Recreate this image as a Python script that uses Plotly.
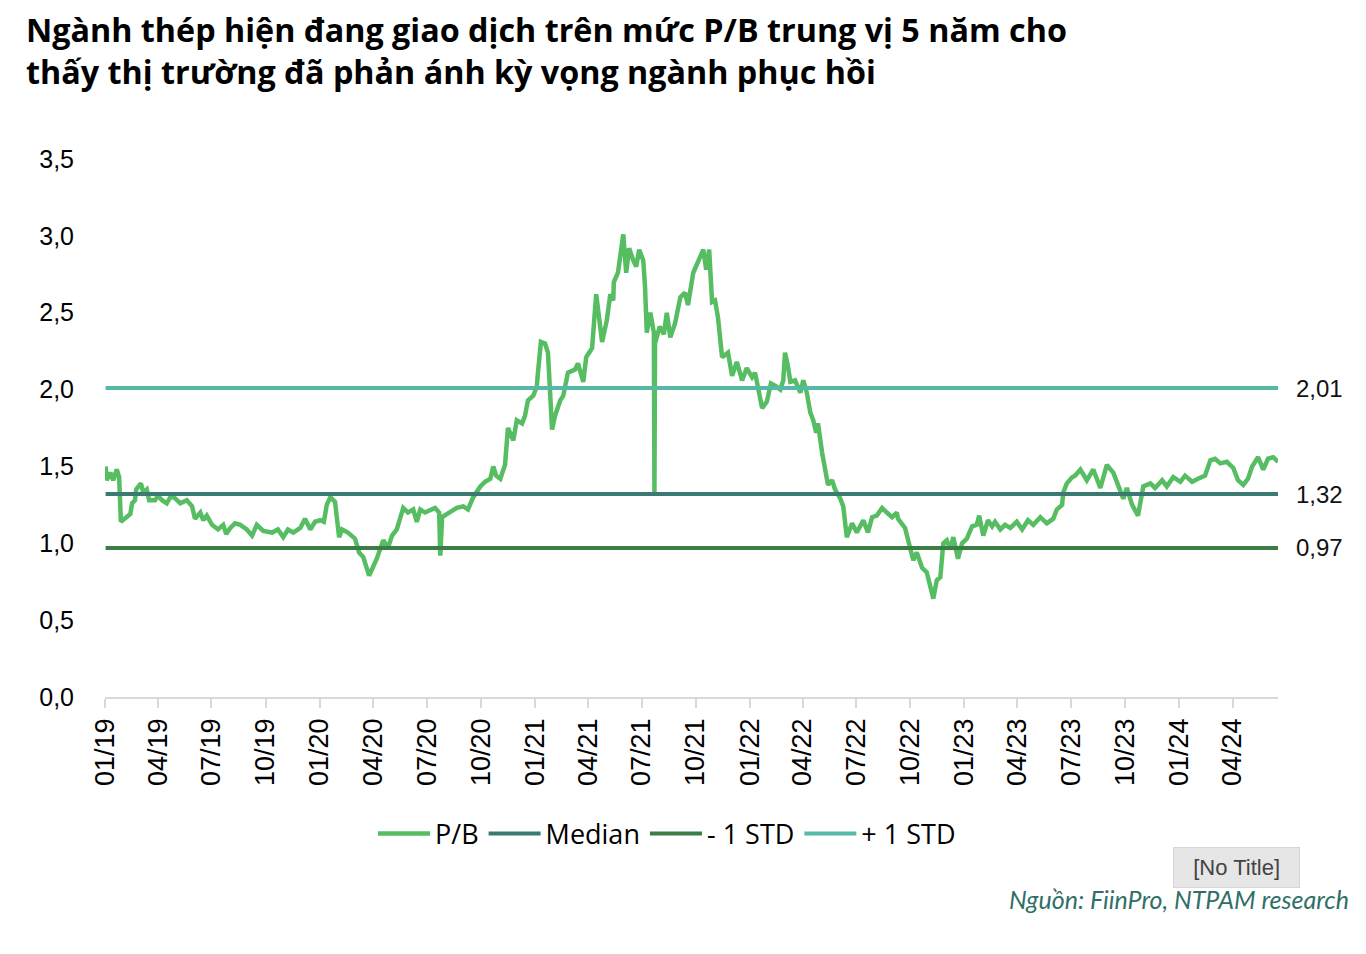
import plotly.graph_objects as go

# ---------------- data ----------------
dates = [
    "2019-01-02", "2019-01-04", "2019-01-10", "2019-01-15", "2019-01-21", "2019-01-25", "2019-01-28",
    "2019-02-04", "2019-02-13", "2019-02-16", "2019-02-21", "2019-02-23", "2019-03-03", "2019-03-07",
    "2019-03-13", "2019-03-17", "2019-03-27", "2019-04-01", "2019-04-08", "2019-04-16", "2019-04-22",
    "2019-04-28", "2019-05-09", "2019-05-20", "2019-05-29", "2019-06-03", "2019-06-12", "2019-06-17",
    "2019-06-23", "2019-07-02", "2019-07-12", "2019-07-21", "2019-07-26", "2019-08-02", "2019-08-10",
    "2019-08-19", "2019-08-30", "2019-09-08", "2019-09-16", "2019-09-27", "2019-10-12", "2019-10-22",
    "2019-10-31", "2019-11-08", "2019-11-17", "2019-11-29", "2019-12-07", "2019-12-16", "2019-12-24",
    "2020-01-02", "2020-01-08", "2020-01-13", "2020-01-19", "2020-01-27", "2020-01-30", "2020-02-03",
    "2020-02-08", "2020-02-18", "2020-03-01", "2020-03-08", "2020-03-15", "2020-03-25", "2020-04-07",
    "2020-04-18", "2020-04-26", "2020-05-03", "2020-05-11", "2020-05-22", "2020-05-30", "2020-06-08",
    "2020-06-14", "2020-06-20", "2020-06-28", "2020-07-07", "2020-07-15", "2020-07-22", "2020-07-24",
    "2020-07-27", "2020-08-10", "2020-08-21", "2020-09-01", "2020-09-09", "2020-09-18", "2020-09-30",
    "2020-10-08", "2020-10-17", "2020-10-22", "2020-10-27", "2020-11-03", "2020-11-11", "2020-11-16",
    "2020-11-25", "2020-12-01", "2020-12-10", "2020-12-15", "2020-12-20", "2020-12-29", "2021-01-04",
    "2021-01-06", "2021-01-11", "2021-01-18", "2021-01-23", "2021-01-30", "2021-02-04", "2021-02-13",
    "2021-02-18", "2021-02-26", "2021-03-10", "2021-03-15", "2021-03-24", "2021-03-29", "2021-04-08",
    "2021-04-15", "2021-04-18", "2021-04-25", "2021-05-03", "2021-05-09", "2021-05-14", "2021-05-15",
    "2021-05-22", "2021-05-27", "2021-05-31", "2021-06-05", "2021-06-10", "2021-06-17", "2021-06-22",
    "2021-06-27", "2021-07-04", "2021-07-07", "2021-07-10", "2021-07-16", "2021-07-22", "2021-07-23",
    "2021-07-24", "2021-08-01", "2021-08-08", "2021-08-13", "2021-08-19", "2021-08-27", "2021-09-05",
    "2021-09-13", "2021-09-18", "2021-09-27", "2021-10-09", "2021-10-14", "2021-10-19", "2021-10-24",
    "2021-10-29", "2021-11-03", "2021-11-08", "2021-11-15", "2021-11-25", "2021-12-02", "2021-12-10",
    "2021-12-19", "2021-12-27", "2022-01-05", "2022-01-10", "2022-01-15", "2022-01-22", "2022-01-30",
    "2022-02-06", "2022-02-15", "2022-02-22", "2022-02-27", "2022-03-02", "2022-03-07", "2022-03-11",
    "2022-03-19", "2022-03-28", "2022-04-02", "2022-04-08", "2022-04-14", "2022-04-19", "2022-04-24",
    "2022-04-27", "2022-05-04", "2022-05-09", "2022-05-14", "2022-05-21", "2022-05-26", "2022-06-04",
    "2022-06-09", "2022-06-15", "2022-06-24", "2022-07-02", "2022-07-13", "2022-07-21", "2022-07-28",
    "2022-08-05", "2022-08-14", "2022-08-22", "2022-08-31", "2022-09-08", "2022-09-10", "2022-09-22",
    "2022-10-01", "2022-10-06", "2022-10-12", "2022-10-21", "2022-10-29", "2022-11-04", "2022-11-09",
    "2022-11-15", "2022-11-21", "2022-11-26", "2022-12-02", "2022-12-08", "2022-12-13", "2022-12-21",
    "2022-12-28", "2023-01-05", "2023-01-14", "2023-01-22", "2023-01-26", "2023-02-02", "2023-02-10",
    "2023-02-17", "2023-02-22", "2023-03-03", "2023-03-11", "2023-03-20", "2023-03-31", "2023-04-09",
    "2023-04-19", "2023-04-28", "2023-05-10", "2023-05-21", "2023-06-01", "2023-06-07", "2023-06-16",
    "2023-06-18", "2023-06-24", "2023-07-03", "2023-07-08", "2023-07-17", "2023-07-28", "2023-08-08",
    "2023-08-20", "2023-08-31", "2023-09-11", "2023-09-19", "2023-09-28", "2023-10-04", "2023-10-13",
    "2023-10-23", "2023-11-01", "2023-11-13", "2023-11-21", "2023-12-03", "2023-12-11", "2023-12-22",
    "2024-01-03", "2024-01-11", "2024-01-23", "2024-02-02", "2024-02-14", "2024-02-23", "2024-03-02",
    "2024-03-11", "2024-03-22", "2024-04-02", "2024-04-10", "2024-04-19", "2024-04-27", "2024-05-04",
    "2024-05-14", "2024-05-23", "2024-05-31", "2024-06-09", "2024-06-17",
]

pb_values = [
    1.50, 1.41, 1.46, 1.41, 1.48, 1.43, 1.14,
    1.16, 1.19, 1.26, 1.28, 1.35, 1.39, 1.33,
    1.35, 1.28, 1.28, 1.31, 1.28, 1.26, 1.30,
    1.30, 1.26, 1.28, 1.24, 1.16, 1.20, 1.15,
    1.18, 1.12, 1.09, 1.12, 1.06, 1.10, 1.13,
    1.12, 1.09, 1.05, 1.12, 1.08, 1.07, 1.09,
    1.04, 1.09, 1.07, 1.10, 1.16, 1.09, 1.14,
    1.15, 1.14, 1.25, 1.30, 1.27, 1.15, 1.04,
    1.09, 1.07, 1.03, 0.94, 0.91, 0.79, 0.90,
    1.02, 0.97, 1.05, 1.09, 1.23, 1.20, 1.22,
    1.14, 1.22, 1.20, 1.22, 1.23, 1.20, 0.92,
    1.17, 1.20, 1.23, 1.24, 1.22, 1.30, 1.37,
    1.40, 1.42, 1.50, 1.44, 1.42, 1.51, 1.75,
    1.67, 1.80, 1.78, 1.83, 1.93, 1.96, 2.02,
    2.11, 2.31, 2.30, 2.24, 1.74, 1.83, 1.93,
    1.96, 2.11, 2.13, 2.17, 2.05, 2.21, 2.27,
    2.62, 2.52, 2.31, 2.45, 2.62, 2.58, 2.70,
    2.76, 2.93, 3.01, 2.76, 2.92, 2.84, 2.80,
    2.91, 2.84, 2.67, 2.37, 2.50, 2.37, 1.33,
    2.30, 2.41, 2.36, 2.50, 2.34, 2.43, 2.60,
    2.63, 2.55, 2.76, 2.86, 2.91, 2.78, 2.91,
    2.57, 2.58, 2.47, 2.21, 2.24, 2.09, 2.18,
    2.06, 2.14, 2.08, 2.11, 2.02, 1.88, 1.92,
    2.04, 2.02, 2.00, 2.06, 2.24, 2.15, 2.05,
    2.06, 1.98, 2.06, 1.98, 1.85, 1.80, 1.72,
    1.78, 1.59, 1.46, 1.38, 1.41, 1.35, 1.29,
    1.24, 1.04, 1.13, 1.07, 1.15, 1.07, 1.17,
    1.18, 1.23, 1.20, 1.17, 1.20, 1.16, 1.10,
    0.96, 0.89, 0.94, 0.84, 0.81, 0.70, 0.64,
    0.76, 0.78, 1.00, 1.02, 0.96, 1.04, 0.90,
    1.00, 1.03, 1.11, 1.12, 1.18, 1.05, 1.15,
    1.11, 1.14, 1.09, 1.12, 1.10, 1.14, 1.09,
    1.15, 1.12, 1.17, 1.13, 1.16, 1.22, 1.25,
    1.33, 1.39, 1.43, 1.44, 1.48, 1.41, 1.48,
    1.36, 1.51, 1.46, 1.38, 1.29, 1.36, 1.25,
    1.18, 1.37, 1.39, 1.36, 1.41, 1.37, 1.43,
    1.40, 1.44, 1.40, 1.42, 1.44, 1.54, 1.55,
    1.52, 1.53, 1.49, 1.41, 1.38, 1.42, 1.50,
    1.56, 1.48, 1.55, 1.56, 1.53,
]

median_value = 1.32
minus_std_value = 0.97
plus_std_value = 2.01

series_names = ["P/B", "Median", "- 1 STD", "+ 1 STD"]
y_tick_values = [0.0, 0.5, 1.0, 1.5, 2.0, 2.5, 3.0, 3.5]
x_axis_start = "2019-01-01"

title_lines = [
    "Ngành thép hiện đang giao dịch trên mức P/B trung vị 5 năm cho",
    "thấy thị trường đã phản ánh kỳ vọng ngành phục hồi",
]
source_text = "Nguồn: FiinPro, NTPAM research"
box_text = "[No Title]"

# ---------------- styles ----------------
C_PB = "#57BD62"
C_MED = "#3A7A73"
C_MINUS = "#3B7D44"
C_PLUS = "#56B9A8"

PW, PH = 1173, 538  # plot area size in px


def px_x(x_abs):
    return (x_abs - 105) / PW


def px_y(y_abs):
    return (697 - y_abs) / PH


fig = go.Figure()

fig.add_trace(go.Scatter(x=dates, y=pb_values, mode="lines", name=series_names[0],
                         line=dict(color=C_PB, width=4.5)))
x_span = [dates[0], dates[-1]]
for name, val, col in [(series_names[1], median_value, C_MED),
                       (series_names[2], minus_std_value, C_MINUS),
                       (series_names[3], plus_std_value, C_PLUS)]:
    fig.add_trace(go.Scatter(x=x_span, y=[val, val], mode="lines", name=name,
                             line=dict(color=col, width=4)))

annotations = []
for val in [plus_std_value, median_value, minus_std_value]:
    annotations.append(dict(xref="paper", yref="y", x=1, y=val, xanchor="left",
                            yanchor="middle", xshift=16,
                            text=f"{val:.2f}".replace(".", ","), showarrow=False,
                            font=dict(family="Liberation Sans, Arial", size=24, color="#111")))

annotations.append(dict(xref="paper", yref="paper", x=px_x(1300), y=px_y(867),
                        xanchor="right", yanchor="middle",
                        text="&nbsp;&nbsp;" + box_text + "&nbsp;&nbsp;", showarrow=False,
                        bgcolor="#E6E6E6", bordercolor="#D6D6D6", borderwidth=1, borderpad=7,
                        font=dict(family="Liberation Sans, Arial", size=22, color="#444")))
annotations.append(dict(xref="paper", yref="paper", x=px_x(1351), y=px_y(899),
                        xanchor="right", yanchor="middle", text=f"<i>{source_text}</i>",
                        showarrow=False,
                        font=dict(family="Lato", size=25, color="#2F6F68")))
for i, line in enumerate(title_lines):
    annotations.append(dict(xref="paper", yref="paper", x=px_x(24),
                            y=px_y(29 + 42 * i),
                            xanchor="left", yanchor="middle", text=f"<b>{line}</b>",
                            showarrow=False,
                            font=dict(family="Open Sans", size=32.3, color="#000")))

# page body has an 8px margin, so the figure is shifted 8px right/down
fig.update_layout(
    width=1358, height=946,
    margin=dict(l=97, r=88, t=151, b=257, pad=0),
    paper_bgcolor="white", plot_bgcolor="white",
    separators=",.",
    showlegend=True,
    legend=dict(orientation="h", x=px_x(667), xanchor="center",
                y=px_y(834), yanchor="middle",
                font=dict(family="Open Sans", size=27, color="#000"),
                itemwidth=52, tracegroupgap=0, bgcolor="rgba(0,0,0,0)"),
    annotations=annotations,
    xaxis=dict(type="date", range=[x_axis_start, dates[-1]],
               tickmode="linear", tick0=x_axis_start, dtick="M3", tickformat="%m/%y",
               tickangle=-90, showgrid=False, zeroline=False,
               showline=True, linecolor="#D9D9D9", linewidth=1.5,
               ticks="outside", ticklen=9, tickcolor="#D9D9D9", tickwidth=1.5,
               tickfont=dict(family="Liberation Sans, Arial", size=27, color="#000")),
    yaxis=dict(range=[0, 3.5], tickvals=y_tick_values, tickformat=".1f",
               showgrid=False, zeroline=False, showline=False,
               ticks="", ticklabelstandoff=30,
               tickfont=dict(family="Liberation Sans, Arial", size=25, color="#000")),
)

fig.write_html("out.html")
